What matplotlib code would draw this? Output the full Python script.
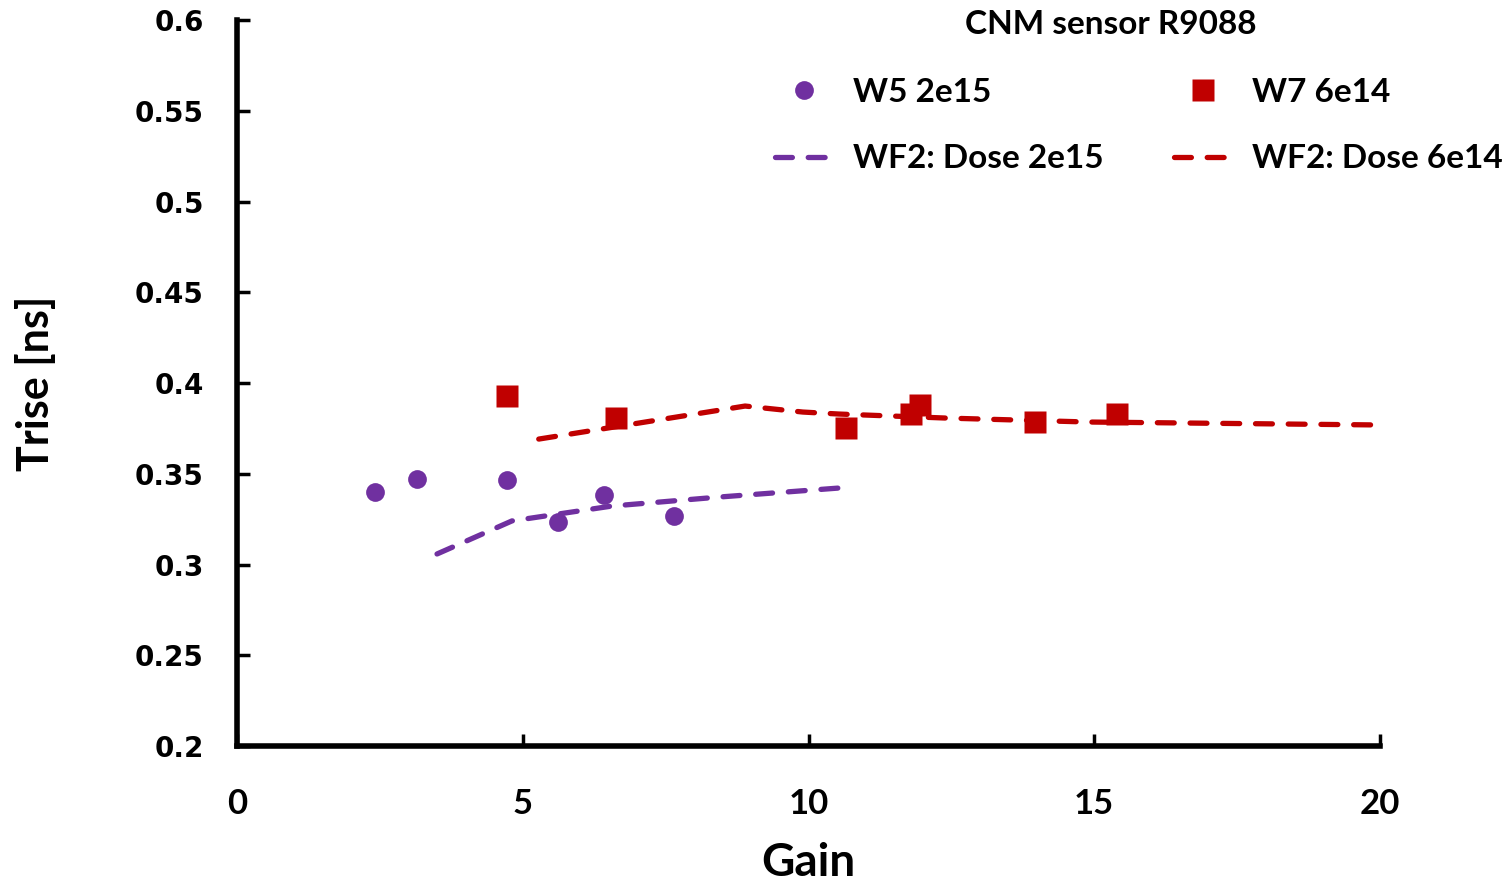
import matplotlib
matplotlib.use('Agg')
import matplotlib.pyplot as plt

# measured points
w5_gain = [2.41, 3.15, 4.72, 5.62, 6.42, 7.65]
w5_trise = [0.3399, 0.3471, 0.3466, 0.3234, 0.3383, 0.3267]

w7_gain = [4.72, 6.63, 10.66, 11.79, 11.95, 13.96, 15.40]
w7_trise = [0.3928, 0.3807, 0.3752, 0.3829, 0.3879, 0.3785, 0.3829]

# WF2 simulation curves
wf2_2e15_gain = [3.50, 4.81, 6.56, 8.45, 10.52]
wf2_2e15_trise = [0.3058, 0.3240, 0.3322, 0.3372, 0.3421]

wf2_6e14_gain = [5.28, 8.89, 9.90, 10.53, 12.39, 14.89, 19.91]
wf2_6e14_trise = [0.3691, 0.3873, 0.3840, 0.3829, 0.3807, 0.3785, 0.3769]

x_ticks = [0, 5, 10, 15, 20]
y_ticks = [0.2, 0.25, 0.3, 0.35, 0.4, 0.45, 0.5, 0.55, 0.6]
y_labels = ['0.2', '0.25', '0.3', '0.35', '0.4', '0.45', '0.5', '0.55', '0.6']

purple = '#7030A0'
red = '#C00000'
lab_font = ['Lato', 'DejaVu Sans']

fig = plt.figure(figsize=(15.11, 8.88), dpi=100)
ax = fig.add_axes([237 / 1511, 1 - 746 / 888, (1380 - 237) / 1511, (746 - 20) / 888])

ax.plot(wf2_2e15_gain, wf2_2e15_trise, color=purple, lw=3.8, ls=(0, (3.2, 3.0)),
        dash_capstyle='round', label='WF2: Dose 2e15', zorder=2)
ax.plot(wf2_6e14_gain, wf2_6e14_trise, color=red, lw=3.8, ls=(0, (3.2, 3.0)),
        dash_capstyle='round', label='WF2: Dose 6e14', zorder=2)
ax.plot(w5_gain, w5_trise, 'o', color=purple, ms=13.5, mec='none', label='W5 2e15', zorder=3)
ax.plot(w7_gain, w7_trise, 's', color=red, ms=15.5, mec='none', label='W7 6e14', zorder=3)

ax.set_xlim(0, 20)
ax.set_ylim(0.2, 0.6)
ax.set_xticks(x_ticks)
ax.set_yticks(y_ticks)
ax.set_yticklabels(y_labels)

for s in ['top', 'right']:
    ax.spines[s].set_visible(False)
for s in ['left', 'bottom']:
    ax.spines[s].set_linewidth(4)
    ax.spines[s].set_capstyle('projecting')

ax.tick_params(direction='in', length=9, width=2.5, color='black')
ax.tick_params(axis='y', pad=24)
ax.tick_params(axis='x', pad=30)
for t in ax.get_yticklabels():
    t.set_fontfamily('DejaVu Sans')
    t.set_fontweight('bold')
    t.set_fontsize(20)
for t in ax.get_xticklabels():
    t.set_fontfamily(lab_font)
    t.set_fontweight('bold')
    t.set_fontsize(25)

ax.set_xlabel('Gain', fontsize=33, fontweight='bold', family=lab_font)
ax.xaxis.set_label_coords(0.5, -0.132)
ax.set_ylabel('Trise [ns]', fontsize=31, fontweight='bold', family=lab_font)
ax.yaxis.set_label_coords(-0.158, 0.5)

fig.text(1111 / 1511, 1 - 24 / 888, 'CNM sensor R9088', fontsize=24, fontweight='bold',
         family=lab_font, ha='center', va='center')

h = ax.get_legend_handles_labels()[0]
handles = [h[2], h[0], h[3], h[1]]
labels = ['W5 2e15', 'WF2: Dose 2e15', 'W7 6e14', 'WF2: Dose 6e14']
leg = ax.legend(handles, labels, ncol=2, frameon=False, loc='upper left',
                bbox_to_anchor=(775 / 1511, 1 - 78 / 888), bbox_transform=fig.transFigure,
                borderpad=0, borderaxespad=0, handlelength=1.75, handletextpad=0.6,
                columnspacing=2.1, labelspacing=1.12,
                prop={'family': lab_font, 'weight': 'bold', 'size': 24})

fig.savefig('out.png', dpi=100)
